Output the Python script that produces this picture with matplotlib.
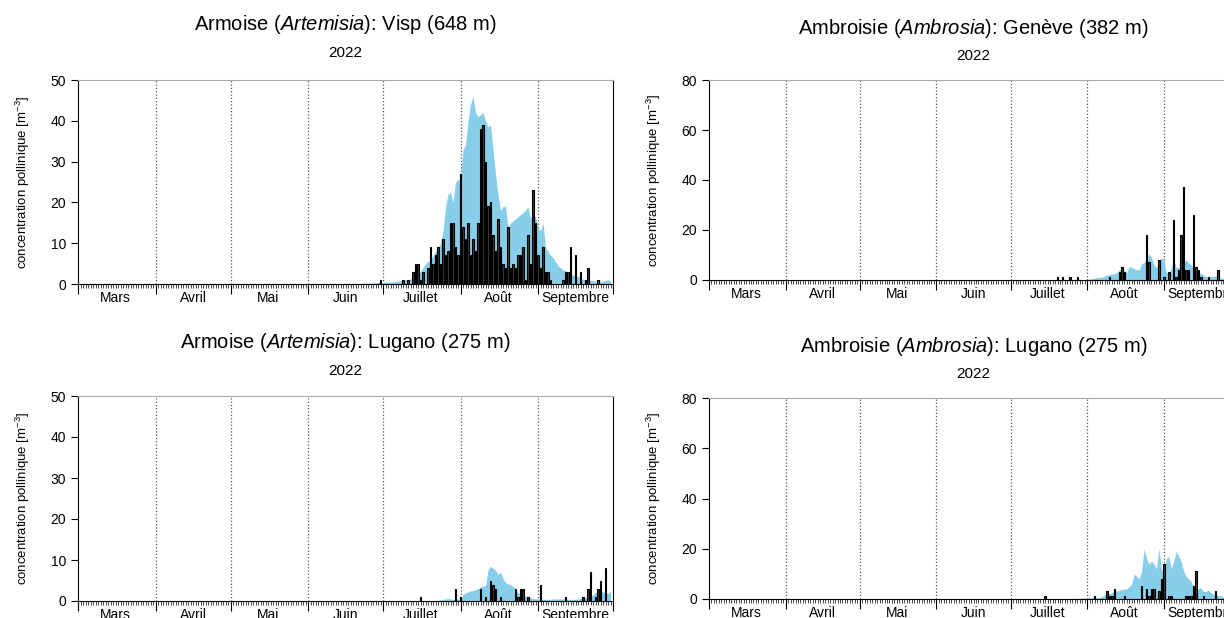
import matplotlib
matplotlib.use("Agg")
import matplotlib.pyplot as plt
import matplotlib.dates as mdates
import numpy as np
import pandas as pd

plt.rcParams['font.family'] = ['Liberation Sans', 'DejaVu Sans']
plt.rcParams['mathtext.fontset'] = 'custom'
plt.rcParams['mathtext.rm'] = 'Liberation Sans'
plt.rcParams['mathtext.it'] = 'Liberation Sans:italic'

# season shown on every panel
season_start = "2022-03-01"
season_end = "2022-09-30"
month_labels = ["Mars", "Avril", "Mai", "Juin", "Juillet", "Août", "Septembre"]

# Armoise, Visp : daily values (bars) and mean curve (blue), given from a start date
visp_art_bars_start = "2022-06-30"
visp_art_bars = [1, 0, 0, 0, 0, 0, 0, 0, 0, 1, 0, 1, 0, 3, 5, 5, 1, 3, 0, 4,
                 9, 5, 7, 9, 5, 11, 7, 8, 15, 15, 9, 7,
                 27, 14, 11, 15, 7, 11, 8, 15, 38, 39, 30, 19, 20, 12, 8, 16,
                 9, 5, 4, 14, 4, 5, 4, 7, 7, 9, 1, 12, 5, 23, 15,
                 7, 4, 9, 3, 3, 1, 0, 0, 0, 0, 1, 3, 3, 9, 0, 7, 0, 3, 0, 1,
                 4, 0, 0, 0, 1, 0, 0, 0, 0, 0]
visp_art_mean_start = "2022-06-20"
visp_art_mean = [0.1, 0.1, 0.1, 0.2, 0.2, 0.2, 0.2, 0.3, 0.3, 0.3, 0.4,
                 0.4, 0.4, 0.5, 0.5, 0.5, 0.6, 0.7, 0.8, 0.9, 1.0,
                 1.0, 1.2, 2.0, 2.5, 2.8, 3.0, 4.0, 5.0, 5.5, 6.0,
                 7.0, 8.0, 9.0, 10.0, 13.0, 19.0, 22.0, 22.5, 20.0, 25.0, 25.5,
                 26, 33, 34, 40, 44, 46, 42, 41, 41.5, 42,
                 40, 38.5, 39, 33, 27, 22, 18, 19, 19, 14,
                 15, 15.5, 16, 16.5, 17, 17.5, 18, 19, 16, 17, 16.5,
                 14, 13, 15, 9, 8, 7, 6.5, 5.5, 4.5, 4,
                 3.5, 3.2, 2.8, 2.5, 2.2, 2.0, 1.8, 1.5, 1.2, 1.1,
                 1.0, 0.9, 0.8, 0.7, 0.6, 0.6, 0.7, 0.9, 1.0, 0.8]

# Ambroisie, Genève
gen_amb_bars_start = "2022-07-20"
gen_amb_bars = [1, 0, 1, 0, 0, 1, 0, 0, 1, 0, 0, 0,
                0, 0, 0, 0, 0, 0, 0, 0, 0, 1, 0, 0, 0, 3, 5, 3,
                0, 0, 0, 0, 0, 0, 0, 0, 18, 7, 0, 0, 0, 8, 0,
                1, 0, 3, 0, 24, 1, 4, 18, 37, 4, 4, 0, 26, 5, 4, 1, 0, 0, 1,
                0, 0, 0, 4, 0, 0, 0, 0, 0, 0, 0]
gen_amb_mean_start = "2022-07-29"
gen_amb_mean = [0.1, 0.2, 0.2,
                0.3, 0.4, 0.5, 0.8, 1.0, 1.0, 1.2, 1.5, 2.0, 2.2,
                2.5, 2.5, 3.0, 4.0, 4.5, 3.5, 3.0, 5.5, 5.0, 4.5,
                4.2, 4.0, 6.5, 7.0, 8.5, 10.5, 9.0, 6.0, 5.0, 7.0, 9.0,
                8.0, 3.0, 2.0, 5.0, 8.0, 5.0, 5.0, 5.5, 7.0, 8.0,
                7.0, 6.0, 5.0, 4.0, 3.0, 2.5, 2.0, 1.5, 1.3, 1.2,
                1.5, 1.5, 1.0, 0.8, 0.6, 0.5, 0.4, 0.3, 0.3, 0.2]

# Armoise, Lugano
lug_art_bars_start = "2022-07-16"
lug_art_bars = [1, 0, 0, 0, 0, 0, 0, 0, 0, 0, 0, 0, 0, 0, 3, 0,
                1, 0, 0, 0, 0, 0, 0, 0, 3, 0, 1, 0, 5, 4, 3, 0, 1,
                0, 0, 0, 0, 0, 3, 1, 3, 3, 0, 1, 0, 0, 0,
                0, 4, 0, 0, 0, 0, 0, 0, 0, 0, 0, 1, 0, 0, 0, 0, 0, 0,
                1, 0, 3, 7, 0, 1, 3, 5, 0, 8, 0, 0]
lug_art_mean_start = "2022-07-22"
lug_art_mean = [0.1, 0.2, 0.3, 0.4, 0.5, 0.6, 0.5, 0.4, 0.4, 0.5,
                0.5, 1.5, 2.0, 2.2, 2.5, 2.5, 2.8, 3.0, 3.5, 3.6,
                3.8, 7.5, 8.5, 8.0, 7.5, 6.5, 7.0, 5.5, 4.5, 4.2,
                4.0, 3.5, 3.0, 2.0, 1.8, 1.5, 1.2, 1.0, 0.8, 0.6, 0.5,
                0.5, 0.5, 0.4, 0.4, 0.4, 0.4, 0.5, 0.5, 0.5, 0.5,
                0.5, 0.5, 0.4, 0.4, 0.4, 0.4, 0.5, 0.6, 0.6, 0.8,
                1.0, 1.2, 1.5, 2.0, 2.3, 2.5, 2.2, 2.0, 1.8, 2.5]

# Ambroisie, Lugano
lug_amb_bars_start = "2022-07-15"
lug_amb_bars = [1, 0, 0, 0, 0, 0, 0, 0, 0, 0, 0, 0, 0, 0, 0, 0, 0,
                0, 0, 0, 1, 0, 0, 0, 0, 3, 1, 1, 4, 0, 0, 0, 1,
                0, 0, 0, 0, 0, 0, 5, 0, 4, 1, 4, 4, 0, 3, 8,
                14, 0, 1, 1, 0, 0, 0, 0, 0, 1, 1, 1, 5, 11, 0, 0, 1,
                0, 0, 0, 0, 3, 0, 0, 0, 0, 0, 0, 0, 0]
lug_amb_mean_start = "2022-07-28"
lug_amb_mean = [0.1, 0.3, 0.3, 0.4,
                0.5, 0.5, 0.5, 0.6, 0.6, 0.6, 1.0, 1.5, 2.0, 2.2,
                2.5, 3.0, 3.2, 3.5, 3.8, 4.0, 4.0, 5.0, 6.0, 10.0,
                9.0, 8.0, 11.0, 20.0, 16.0, 14.0, 15.0, 14.0, 12.0, 20.0, 12.0,
                10.0, 16.0, 17.0, 12.0, 15.0, 19.0, 17.0, 15.0, 11.0, 9.0,
                8.0, 7.0, 5.0, 4.0, 4.0, 4.5, 3.0, 3.0, 3.5, 2.5,
                2.0, 1.8, 1.5, 1.2, 1.0, 0.8, 0.6, 0.5, 0.4, 0.3]

days = pd.date_range(season_start, season_end, freq="D")


def on_season(start, values):
    s = pd.Series(0.0, index=days)
    idx = pd.date_range(start, periods=len(values), freq="D")
    s.loc[idx] = values
    return s


panels = [
    # title, bars, mean, ymax, axes rect, title y (px), subtitle y (px)
    ("Armoise ($\\mathit{Artemisia}$): Visp (648 m)",
     on_season(visp_art_bars_start, visp_art_bars),
     on_season(visp_art_mean_start, visp_art_mean),
     50, [78, 80, 535, 204], 25, 53),
    ("Ambroisie ($\\mathit{Ambrosia}$): Genève (382 m)",
     on_season(gen_amb_bars_start, gen_amb_bars),
     on_season(gen_amb_mean_start, gen_amb_mean),
     80, [709, 80, 529, 200], 29, 56),
    ("Armoise ($\\mathit{Artemisia}$): Lugano (275 m)",
     on_season(lug_art_bars_start, lug_art_bars),
     on_season(lug_art_mean_start, lug_art_mean),
     50, [78, 396, 535, 205], 342, 371),
    ("Ambroisie ($\\mathit{Ambrosia}$): Lugano (275 m)",
     on_season(lug_amb_bars_start, lug_amb_bars),
     on_season(lug_amb_mean_start, lug_amb_mean),
     80, [709, 398, 529, 201], 346, 374),
]

W, H = 1224, 618
fig = plt.figure(figsize=(W / 100, H / 100), dpi=100)

month_starts = pd.date_range("2022-03-01", "2022-10-01", freq="MS")
month_mids = month_starts[:-1] + pd.Timedelta(days=15)

for title, bars, mean, ymax, (x0, y0, w, h), ty, sy in panels:
    ax = fig.add_axes([x0 / W, 1 - (y0 + h) / H, w / W, h / H])
    ax.fill_between(mean.index, 0, mean.values, color="#87ceeb", lw=0)
    nz = bars[bars > 0]
    ax.bar(nz.index, nz.values, width=0.6, color="#3a3a3a",
           edgecolor="black", linewidth=0.8)
    for m in month_starts[1:-1]:
        ax.axvline(m, color="#555555", ls=":", lw=0.9, zorder=0.5)

    ax.set_xlim(month_starts[0], month_starts[-1])
    ax.set_ylim(0, ymax)
    ax.set_yticks(np.arange(0, ymax + 1, 10 if ymax == 50 else 20))
    ax.tick_params(axis="y", direction="out", length=5, labelsize=10)

    ax.set_xticks(month_starts)
    ax.set_xticklabels([])
    ax.xaxis.set_minor_locator(mdates.DayLocator())
    ax.tick_params(axis="x", which="major", direction="out", length=7, width=0.8)
    ax.tick_params(axis="x", which="minor", direction="out", length=3, width=0.5)
    for mid, lab in zip(month_mids, month_labels):
        ax.text(mid, -0.035, lab, transform=ax.get_xaxis_transform(),
                ha="center", va="top", fontsize=10)

    ax.spines["top"].set_color("#aaaaaa")
    ax.set_ylabel("concentration pollinique [m$^{-3}$]", fontsize=9.5)
    ax.yaxis.set_label_coords(-46 / w, 0.5)

    xc = (x0 + w / 2) / W
    fig.text(xc, 1 - ty / H, title, ha="center", va="center", fontsize=14.5)
    fig.text(xc, 1 - sy / H, "2022", ha="center", va="center", fontsize=11)

fig.savefig("out.png", dpi=100)
